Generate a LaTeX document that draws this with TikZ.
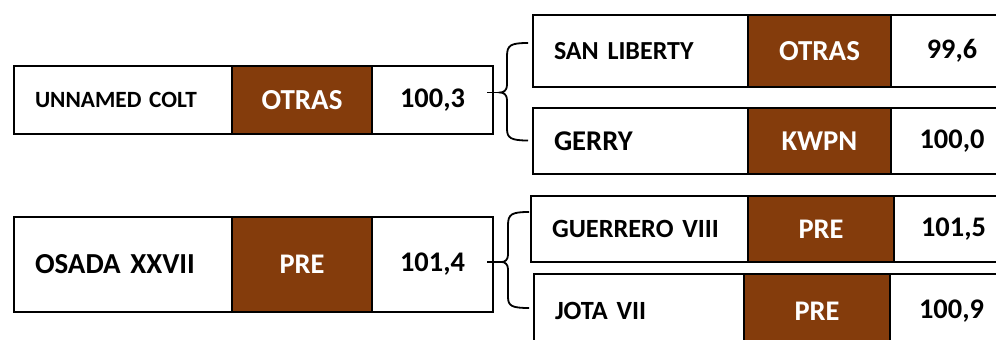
\documentclass[tikz,border=0pt]{standalone}
\usepackage{fontspec}
\setmainfont{Carlito}
\definecolor{brn}{HTML}{843C0C}
\newcommand\fsz[1]{\fontsize{#1}{#1}\selectfont\bfseries}
\begin{document}
\begin{tikzpicture}[x=1pt,y=-1pt,
 cellbox/.style={draw=black, line width=2pt, anchor=north west, inner sep=0pt},
 namecell/.style={cellbox, inner xsep=21pt, align=left},
 typecell/.style={cellbox, fill=brn, text=white},
 numcell/.style={cellbox},
 bracket/.style={draw=black, line width=1.8pt}]
\clip (0,0) rectangle (996,340);
% left row 1
\node[namecell, text width=176pt, minimum height=68pt, font=\fsz{23.3}] (l1n) at (13,65) {UNNAMED COLT};
\node[typecell, minimum width=140pt, minimum height=68pt, font=\fsz{29}] (l1t) at (231,65) {OTRAS};
\node[numcell, minimum width=121pt, minimum height=68pt, font=\fsz{28.4}] (l1v) at (371,65) {100,3};
% left row 2
\node[namecell, text width=176pt, minimum height=95pt, font=\fsz{29}] (l2n) at (13,216) {OSADA XXVII};
\node[typecell, minimum width=140pt, minimum height=95pt, font=\fsz{28.4}] (l2t) at (231,216) {PRE};
\node[numcell, minimum width=121pt, minimum height=95pt, font=\fsz{28.4}] (l2v) at (371,216) {101,4};
% right row 1
\node[namecell, text width=173pt, minimum height=72pt, font=\fsz{26}] (r1n) at (532,14) {SAN LIBERTY};
\node[typecell, minimum width=143pt, minimum height=72pt, font=\fsz{29}] (r1t) at (747,14) {OTRAS};
\node[numcell, minimum width=122pt, minimum height=72pt, font=\fsz{28.2}] (r1v) at (890,14) {99,6};
% right row 2
\node[namecell, text width=173pt, minimum height=66pt, font=\fsz{28.6}] (r2n) at (532,107) {GERRY};
\node[typecell, minimum width=143pt, minimum height=66pt, font=\fsz{28.7}] (r2t) at (747,107) {KWPN};
\node[numcell, minimum width=122pt, minimum height=66pt, font=\fsz{28.4}] (r2v) at (890,107) {100,0};
% right row 3
\node[namecell, text width=175pt, minimum height=66pt, font=\fsz{26.3}] (r3n) at (530,195) {GUERRERO VIII};
\node[typecell, minimum width=146pt, minimum height=66pt, font=\fsz{28.4}] (r3t) at (747,195) {PRE};
\node[numcell, minimum width=119pt, minimum height=66pt, font=\fsz{28.4}] (r3v) at (893,195) {101,5};
% right row 4
\node[namecell, text width=168pt, minimum height=74pt, font=\fsz{26.3}] (r4n) at (533,273) {JOTA VII};
\node[typecell, minimum width=146pt, minimum height=74pt, font=\fsz{28.4}] (r4t) at (743,273) {PRE};
\node[numcell, minimum width=123pt, minimum height=74pt, font=\fsz{28.4}] (r4v) at (889,273) {100,9};
% bracket 1
\coordinate (t1) at (487,92.5);
\coordinate (b1tip) at (500,92.5);
\coordinate (b1top) at (528,43);
\coordinate (b1bot) at (528,140.5);
\draw[bracket] (t1) -- (b1tip);
\draw[bracket] (b1top) .. controls (511,43) and (507,45) .. (507,56) -- (507,85)
  .. controls (507,90) and (504,92.5) .. (b1tip)
  .. controls (504,92.5) and (507,95) .. (507,100) -- (507,129)
  .. controls (507,138) and (511,140.5) .. (b1bot);
% bracket 2
\coordinate (t2) at (487,262);
\coordinate (b2tip) at (502,262);
\coordinate (b2top) at (529,212);
\coordinate (b2bot) at (529,308);
\draw[bracket] (t2) -- (b2tip);
\draw[bracket] (b2top) .. controls (512,212) and (508,214) .. (508,225) -- (508,255)
  .. controls (508,259.5) and (505,262) .. (b2tip)
  .. controls (505,262) and (508,264.5) .. (508,269) -- (508,297)
  .. controls (508,306) and (512,308) .. (b2bot);
\end{tikzpicture}
\end{document}
